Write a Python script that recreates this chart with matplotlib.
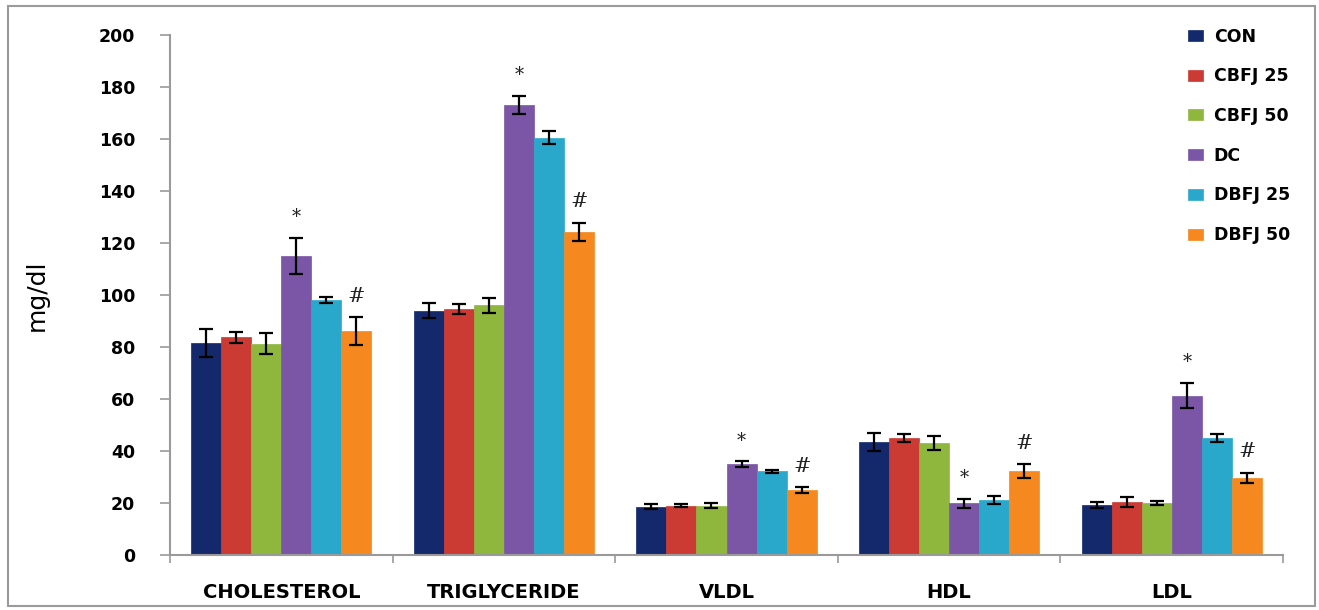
import matplotlib
matplotlib.use('Agg')
import matplotlib.pyplot as plt
import numpy as np
from matplotlib.patches import Rectangle

categories = ['CHOLESTEROL', 'TRIGLYCERIDE', 'VLDL', 'HDL', 'LDL']
groups = ['CON', 'CBFJ 25', 'CBFJ 50', 'DC', 'DBFJ 25', 'DBFJ 50']

# mean values per group, one entry per category
con = [81.4, 94.0, 18.5, 43.5, 19.2]
cbfj25 = [83.7, 94.5, 19.0, 44.9, 20.3]
cbfj50 = [81.2, 96.0, 19.0, 43.0, 20.0]
dc = [115.0, 173.0, 35.0, 19.8, 61.3]
dbfj25 = [98.0, 160.5, 32.2, 21.0, 45.0]
dbfj50 = [86.2, 124.3, 25.0, 32.3, 29.6]

con_err = [5.4, 3.0, 1.0, 3.5, 1.0]
cbfj25_err = [2.0, 2.0, 0.5, 1.5, 2.0]
cbfj50_err = [4.0, 3.0, 1.0, 2.6, 0.8]
dc_err = [7.0, 3.5, 1.0, 1.7, 4.8]
dbfj25_err = [1.2, 2.5, 0.5, 1.5, 1.7]
dbfj50_err = [5.3, 3.5, 1.0, 2.7, 2.0]

means = [con, cbfj25, cbfj50, dc, dbfj25, dbfj50]
errs = [con_err, cbfj25_err, cbfj50_err, dc_err, dbfj25_err, dbfj50_err]
colors = ['#14296b', '#cc3b33', '#8fb73e', '#7b56a6', '#2aa8cc', '#f5891f']

# significance marks: (group index, mark) drawn in every category
marks = [(3, '*'), (5, '#')]

fig = plt.figure(figsize=(13.19, 6.10), dpi=100)
ax = fig.add_axes([0.1289, 0.0902, 0.8438, 0.8525])

x = np.arange(len(categories))
width = 0.135
for i, (vals, err, col, lab) in enumerate(zip(means, errs, colors, groups)):
    pos = x + (i - 2.5) * width
    ax.bar(pos, vals, width, color=col, edgecolor=col, linewidth=0.5, label=lab, zorder=2)
    ax.errorbar(pos, vals, yerr=err, fmt='none', ecolor='black', elinewidth=1.6,
                capsize=5, capthick=1.6, zorder=3)

for gi, sym in marks:
    for ci in range(len(categories)):
        top = means[gi][ci] + errs[gi][ci]
        ax.annotate(sym, (x[ci] + (gi - 2.5) * width, top), xytext=(0, 15),
                    textcoords='offset points', ha='center', va='center',
                    fontsize=15 if sym == '#' else 13, family='DejaVu Serif', color='#222222')

ax.set_xlim(-0.5, len(categories) - 0.5)
ax.set_ylim(0, 200)
ax.set_yticks(np.arange(0, 201, 20))
ax.set_xticks(x)
ax.set_xticklabels(categories, fontsize=14, fontweight='bold')
ax.set_xticks(np.arange(-0.5, len(categories), 1.0), minor=True)
ax.tick_params(axis='x', which='major', length=0, pad=20)
ax.tick_params(axis='x', which='minor', length=6, color='#9a9a9a', width=1.2)
ax.tick_params(axis='y', length=7, color='#9a9a9a', width=1.2, labelsize=12.5, pad=18)
for lbl in ax.get_yticklabels():
    lbl.set_fontweight('bold')
for s in ['top', 'right']:
    ax.spines[s].set_visible(False)
for s in ['left', 'bottom']:
    ax.spines[s].set_color('#9a9a9a')
    ax.spines[s].set_linewidth(1.5)

ax.set_ylabel('mg/dl', fontsize=18, family=['Liberation Sans Narrow', 'DejaVu Sans'],
               labelpad=36)

ax.legend(loc='upper left', bbox_to_anchor=(1172 / 1319, 1 - 12 / 610),
          bbox_transform=fig.transFigure, frameon=False,
          prop={'weight': 'bold', 'size': 12.5}, handlelength=0.9, handleheight=0.6,
          labelspacing=1.25, handletextpad=0.6)

fig.patches.append(Rectangle((8 / 1319, 4 / 610), 1 - 12 / 1319, 1 - 10 / 610,
                             transform=fig.transFigure, fill=False,
                             edgecolor='#9a9a9a', linewidth=1.5))

fig.savefig('out.png', dpi=100)
